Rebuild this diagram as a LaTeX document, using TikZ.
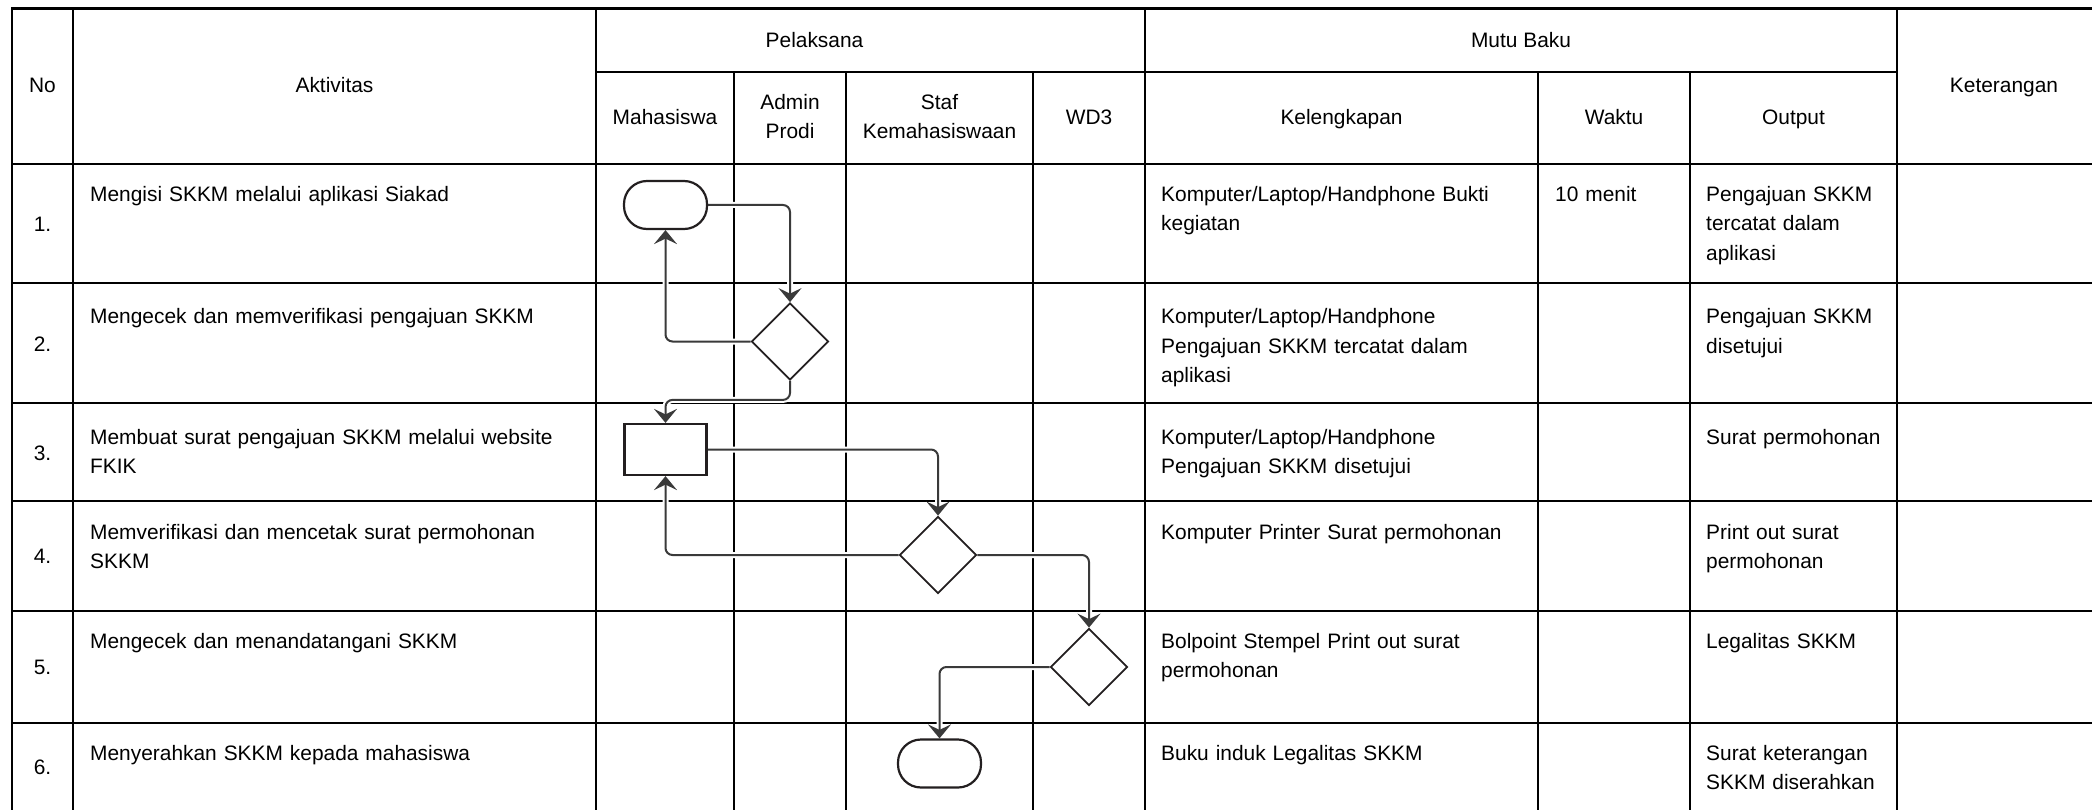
\documentclass[tikz,border=0pt]{standalone}
\usepackage{fontspec}
\setmainfont{Liberation Sans}
\usetikzlibrary{shapes.geometric,arrows.meta,calc}
\pgfdeclarelayer{gridlayer}
\pgfdeclarelayer{connlayer}
\pgfsetlayers{gridlayer,connlayer,main}
\definecolor{linec}{HTML}{3A3A3A}
\definecolor{shapec}{HTML}{231F20}
\newcommand\cellfont{\fontsize{20.9pt}{29.5pt}\selectfont}
\begin{document}
\begin{tikzpicture}[x=1pt,y=-1pt,
  gridline/.style={line width=2.4pt,draw=black},
  conn/.style={draw=linec,line width=2pt,rounded corners=7pt,
     -{Stealth[length=14pt,width=23pt,inset=5.5pt]},
     preaction={draw=white,line width=6pt,-}},
  term/.style={draw=shapec,fill=white,line width=2.2pt,rectangle,rounded corners=23pt,
     minimum width=83pt,minimum height=48pt,inner sep=0pt},
  proc/.style={draw=shapec,fill=white,line width=2.2pt,rectangle,
     minimum width=82pt,minimum height=51pt,inner sep=0pt},
  dec/.style={draw=shapec,fill=white,line width=1.8pt,diamond,shape aspect=1,
     minimum width=77pt,minimum height=77pt,inner sep=0pt},
  cell/.style={anchor=base west,inner sep=0pt,text width=700pt,align=left,font=\cellfont},
  head/.style={anchor=base,inner sep=0pt,font=\cellfont},
  head2/.style={anchor=base,inner sep=0pt,text width=200pt,align=center,font=\cellfont},
  num/.style={anchor=center,inner sep=0pt,font=\cellfont}
]
\useasboundingbox (0,0) rectangle (2092,810);
\clip (0,0) rectangle (2092,810);

% ---------- grid ----------
\begin{pgfonlayer}{gridlayer}
\draw[gridline] (12,8.5) rectangle (2111,812);
\draw[gridline] (73,8.5) -- (73,812);
\draw[gridline] (596,8.5) -- (596,812);
\draw[gridline] (1145,8.5) -- (1145,812);
\draw[gridline] (1897,8.5) -- (1897,812);
\foreach \x in {734,846,1033,1538,1690}
  \draw[gridline] (\x,72) -- (\x,812);
\draw[gridline] (596,72) -- (1897,72);
\foreach \y in {164,283,403,501,611,723}
  \draw[gridline] (12,\y) -- (2111,\y);
\end{pgfonlayer}

% ---------- header ----------
\node[head] (hno) at (42.5,93) {No};
\node[head] (hakt) at (334.5,93) {Aktivitas};
\node[head] (hpel) at (814.5,48) {Pelaksana};
\node[head] (hmut) at (1521,48) {Mutu Baku};
\node[head] (hket) at (2004,93) {Keterangan};
\node[head] (hmhs) at (665,124.5) {Mahasiswa};
\node[head2] (hadm) at (790,109.5) {Admin\\Prodi};
\node[head2] (hstf) at (939.5,109.5) {Staf\\Kemahasiswaan};
\node[head] (hwd) at (1089,124.5) {WD3};
\node[head] (hkel) at (1341.5,124.5) {Kelengkapan};
\node[head] (hwkt) at (1614,124.5) {Waktu};
\node[head] (hout) at (1793.5,124.5) {Output};

% ---------- numbers ----------
\node[num] (n1) at (42.5,224) {1.};
\node[num] (n2) at (42.5,344) {2.};
\node[num] (n3) at (42.5,453) {3.};
\node[num] (n4) at (42.5,556) {4.};
\node[num] (n5) at (42.5,667) {5.};
\node[num] (n6) at (42.5,767) {6.};

% ---------- activities ----------
\node[cell] (a1) at (90,201.5) {Mengisi SKKM melalui aplikasi Siakad};
\node[cell] (a2) at (90,323.8) {Mengecek dan memverifikasi pengajuan SKKM};
\node[cell] (a3) at (90,444) {Membuat surat pengajuan SKKM melalui website\\FKIK};
\node[cell] (a4) at (90,539.4) {Memverifikasi dan mencetak surat permohonan\\SKKM};
\node[cell] (a5) at (90,648) {Mengecek dan menandatangani SKKM};
\node[cell] (a6) at (90,760) {Menyerahkan SKKM kepada mahasiswa};

% ---------- kelengkapan ----------
\node[cell] (k1) at (1161,201.5) {Komputer/Laptop/Handphone Bukti\\kegiatan};
\node[cell] (k2) at (1161,323.8) {Komputer/Laptop/Handphone\\Pengajuan SKKM tercatat dalam\\aplikasi};
\node[cell] (k3) at (1161,444) {Komputer/Laptop/Handphone\\Pengajuan SKKM disetujui};
\node[cell] (k4) at (1161,539.4) {Komputer Printer Surat permohonan};
\node[cell] (k5) at (1161,648) {Bolpoint Stempel Print out surat\\permohonan};
\node[cell] (k6) at (1161,760) {Buku induk Legalitas SKKM};

% ---------- waktu ----------
\node[cell] (w1) at (1555,201.5) {10 menit};

% ---------- output ----------
\node[cell] (o1) at (1706,201.5) {Pengajuan SKKM\\tercatat dalam\\aplikasi};
\node[cell] (o2) at (1706,323.8) {Pengajuan SKKM\\disetujui};
\node[cell] (o3) at (1706,444) {Surat permohonan};
\node[cell] (o4) at (1706,539.4) {Print out surat\\permohonan};
\node[cell] (o5) at (1706,648) {Legalitas SKKM};
\node[cell] (o6) at (1706,760) {Surat keterangan\\SKKM diserahkan};

% ---------- flow shapes ----------
\node[term] (t1) at (665.5,205) {};
\node[dec]  (d1) at (790,341.5) {};
\node[proc] (r1) at (665.5,449.5) {};
\node[dec]  (d2) at (938,555) {};
\node[dec]  (d3) at (1089,667) {};
\node[term] (t2) at (939.5,763.5) {};

% ---------- connectors ----------
\begin{pgfonlayer}{connlayer}
\draw[conn] (t1.east) -| (d1.north);
\draw[conn] (d1.west) -| (t1.south);
\draw[conn] (d1.south) -- ++(0,19) -| (r1.north);
\draw[conn] (r1.east) -| (d2.north);
\draw[conn] (d2.west) -| (r1.south);
\draw[conn] (d2.east) -| (d3.north);
\draw[conn] (d3.west) -| (t2.north);
\end{pgfonlayer}
\end{tikzpicture}
\end{document}
